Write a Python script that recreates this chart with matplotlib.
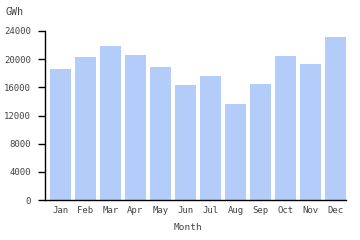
import matplotlib
matplotlib.use("Agg")
import matplotlib.pyplot as plt

months = ['Jan', 'Feb', 'Mar', 'Apr', 'May', 'Jun', 'Jul', 'Aug', 'Sep', 'Oct', 'Nov', 'Dec']
gwh = [18600, 20250, 21850, 20600, 18900, 16350, 17600, 13650, 16450, 20450, 19300, 23150]
yticks = [0, 4000, 8000, 12000, 16000, 20000, 24000]

plt.rcParams['font.family'] = 'DejaVu Sans Mono'

fig = plt.figure(figsize=(3.6, 2.4), dpi=100)
ax = fig.add_axes([45 / 360, 40 / 240, 301 / 360, 169 / 240])

x = list(range(len(months)))
ax.bar(x, gwh, width=0.83, color='#b3ccfa')

ax.set_xlim(-0.612, 11.414)
ax.set_ylim(0, 24000)
ax.set_xticks(x)
ax.set_xticklabels(months)
ax.set_yticks(yticks)
ax.tick_params(axis='x', length=0, pad=4, labelsize=6.5, colors='#444444')
ax.tick_params(axis='y', length=5, width=1, pad=5, labelsize=6.5, labelcolor='#444444')

for side in ['top', 'right']:
    ax.spines[side].set_visible(False)
ax.spines['left'].set_linewidth(1)
ax.spines['bottom'].set_linewidth(1)

ax.set_xlabel('Month', fontsize=6.8, color='#444444')
ax.xaxis.set_label_coords((188 - 45) / 301, -0.135)
fig.text(5 / 360, 1 - 12 / 240, 'GWh', fontsize=7.2, color='#444444', va='center', ha='left')

fig.savefig('out.png', dpi=100)
